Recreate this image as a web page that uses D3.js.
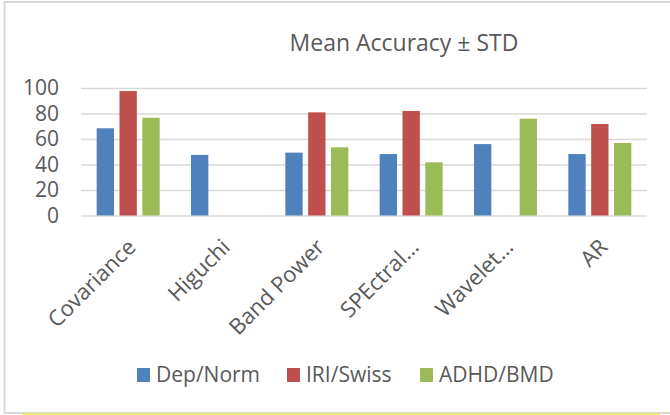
<!DOCTYPE html>
<html>
<head>
<meta charset="utf-8">
<script src="https://cdnjs.cloudflare.com/ajax/libs/d3/7.8.5/d3.min.js"></script>
<style>
  body { margin: 0; background: #fff; }
  text { font-family: "Open Sans", sans-serif; fill: #595959; }
</style>
</head>
<body>
<div id="chart"></div>
<script>
// chart data
var categories = ["Covariance", "Higuchi", "Band Power", "SPEctral\u2026", "Wavelet\u2026", "AR"];
var seriesNames = ["Dep/Norm", "IRI/Swiss", "ADHD/BMD"];
var depNorm = [68.4, 47.5, 49.3, 48.2, 56, 48.2];
var iriSwiss = [97.6, null, 80.9, 82, null, 71.8];
var adhdBmd = [76.7, null, 53.5, 41.7, 75.9, 56.9];
var yTicks = [0, 20, 40, 60, 80, 100];
var colors = ["#4f81bd", "#c0504d", "#9bbb59"];

var allSeries = [depNorm, iriSwiss, adhdBmd];

var width = 670, height = 415;
var plotLeft = 81, plotRight = 647, plotTop = 88, plotBottom = 215.5;

var svg = d3.select("#chart")
  .append("svg")
    .attr("width", width)
    .attr("height", height);

// chart border and the yellow strip under it
svg.append("rect")
  .attr("x", 4.5).attr("y", 2)
  .attr("width", 680).attr("height", 411)
  .attr("fill", "none")
  .attr("stroke", "#d9d9d9")
  .attr("stroke-width", 2);
svg.append("line")
  .attr("x1", 22).attr("x2", 660)
  .attr("y1", 414.5).attr("y2", 414.5)
  .attr("stroke", "#f2f04a")
  .attr("stroke-width", 2);

var x0 = d3.scaleBand()
  .domain(categories)
  .range([plotLeft, plotRight]);

var x1 = d3.scaleBand()
  .domain(seriesNames)
  .range([x0.bandwidth() / 2 - 31.5, x0.bandwidth() / 2 + 31.5])
  .paddingInner(0.24);

var y = d3.scaleLinear()
  .domain([0, 100])
  .range([plotBottom, plotTop]);

// gridlines and y labels
var yAxis = d3.axisLeft(y)
  .tickValues(yTicks)
  .tickSize(-(plotRight - plotLeft))
  .tickPadding(22);

var gy = svg.append("g")
  .attr("transform", "translate(" + plotLeft + ",0)")
  .call(yAxis);
gy.select(".domain").remove();
gy.selectAll(".tick line")
  .attr("stroke", "#d9d9d9")
  .attr("stroke-width", 1.5);
gy.selectAll(".tick text")
  .style("font-size", "21px")
  .attr("fill", "#595959");

// bars
var groups = svg.selectAll("g.cat")
  .data(categories)
  .enter()
  .append("g")
  .attr("class", "cat")
  .attr("transform", function(d) { return "translate(" + x0(d) + ",0)"; });

groups.selectAll("rect")
  .data(function(d, i) {
    return allSeries.map(function(s, j) { return { name: seriesNames[j], value: s[i], color: colors[j] }; })
      .filter(function(e) { return e.value != null; });
  })
  .enter()
  .append("rect")
  .attr("x", function(d) { return x1(d.name); })
  .attr("width", x1.bandwidth())
  .attr("y", function(d) { return y(d.value); })
  .attr("height", function(d) { return plotBottom - y(d.value); })
  .attr("fill", function(d) { return d.color; });

// rotated category labels
svg.selectAll("text.cat-label")
  .data(categories)
  .enter()
  .append("text")
  .attr("class", "cat-label")
  .attr("text-anchor", "end")
  .style("font-size", "22px")
  .attr("transform", function(d) {
    return "translate(" + (x0(d) + x0.bandwidth() / 2 + 9) + "," + (plotBottom + 33) + ") rotate(-45)";
  })
  .text(function(d) { return d; });

// title
svg.append("text")
  .attr("x", 404)
  .attr("y", 51)
  .attr("text-anchor", "middle")
  .style("font-size", "23px")
  .text("Mean Accuracy \u00b1 STD");

// legend
var legendX = [137, 287, 420];
var legend = svg.selectAll("g.legend")
  .data(seriesNames)
  .enter()
  .append("g")
  .attr("class", "legend")
  .attr("transform", function(d, i) { return "translate(" + legendX[i] + ",368)"; });

legend.append("rect")
  .attr("width", 13)
  .attr("height", 14)
  .attr("fill", function(d, i) { return colors[i]; });

legend.append("text")
  .attr("x", 19)
  .attr("y", 7)
  .attr("dy", "0.35em")
  .style("font-size", "21px")
  .text(function(d) { return d; });
</script>
</body>
</html>
